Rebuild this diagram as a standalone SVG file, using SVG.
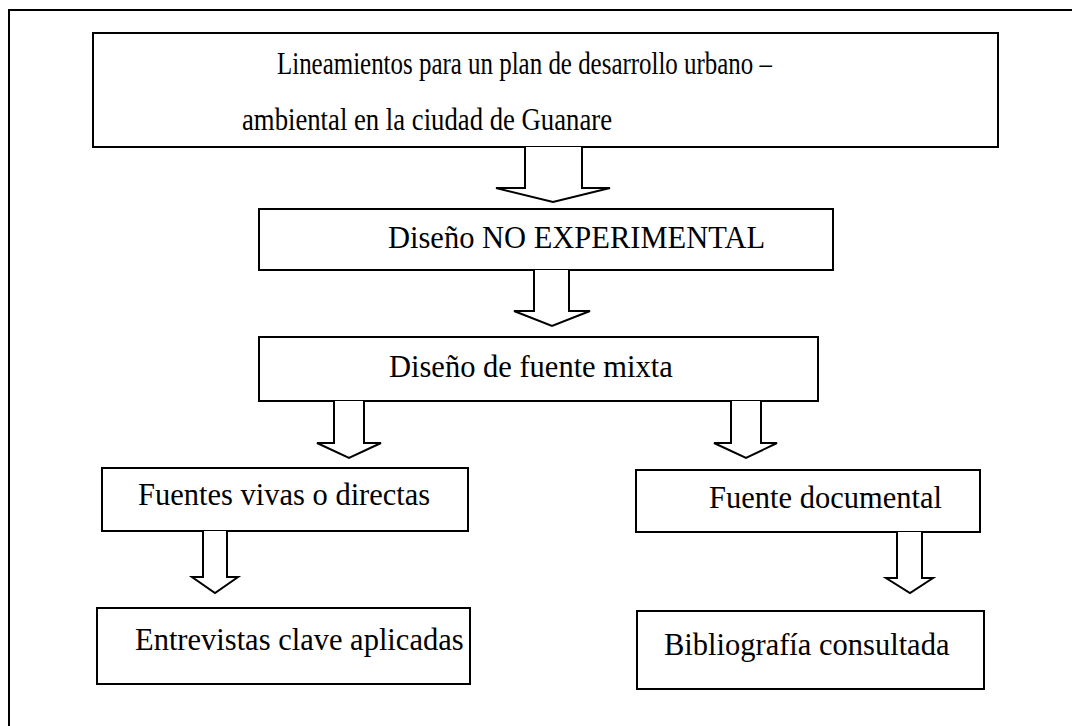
<svg xmlns="http://www.w3.org/2000/svg" width="1072" height="726" viewBox="0 0 1072 726">
<style>
.box{fill:#fff;stroke:#000;stroke-width:2}
.arr{fill:#fff;stroke:#000;stroke-width:2;stroke-linejoin:miter}
text{font-family:"Liberation Serif","Times New Roman",serif;font-size:30.5px;fill:#000}
</style>
<rect x="0" y="0" width="1072" height="726" fill="#fff"/>
<path d="M9,726 V10 H1072" fill="none" stroke="#000" stroke-width="2"/>
<g id="n1"><rect class="box" x="93" y="33" width="905" height="114"/>
<text x="277" y="74" textLength="495" lengthAdjust="spacingAndGlyphs">Lineamientos para un plan de desarrollo urbano –</text>
<text x="242" y="130" textLength="370" lengthAdjust="spacingAndGlyphs">ambiental en la ciudad de Guanare</text></g>
<g id="n2"><rect class="box" x="259" y="209" width="574" height="61"/>
<text x="388" y="248">Diseño NO EXPERIMENTAL</text></g>
<g id="n3"><rect class="box" x="259" y="337" width="559" height="64"/>
<text x="389" y="377">Diseño de fuente mixta</text></g>
<g id="n4"><rect class="box" x="102" y="468" width="366" height="63"/>
<text x="138" y="505">Fuentes vivas o directas</text></g>
<g id="n5"><rect class="box" x="636" y="470" width="344" height="62"/>
<text x="709" y="508">Fuente documental</text></g>
<g id="n6"><rect class="box" x="97" y="608" width="373" height="76"/>
<text x="135" y="650">Entrevistas clave aplicadas</text></g>
<g id="n7"><rect class="box" x="637" y="611" width="347" height="78"/>
<text x="664" y="655">Bibliografía consultada</text></g>
<g id="connectors">
<path class="arr" d="M525,147 V188 H496 L553,202 L610,188 H582 V147"/>
<path class="arr" d="M534,270 V311 H514 L552,326 L590,311 H569 V270"/>
<path class="arr" d="M334,401 V443 H317 L349,458 L381,443 H364 V401"/>
<path class="arr" d="M731,401 V443 H714 L746,458 L777,443 H761 V401"/>
<path class="arr" d="M203,531 V577 H192 L215,593 L238,577 H227 V531"/>
<path class="arr" d="M897,532 V578 H886 L910,593 L933,578 H922 V532"/>
</g>
</svg>
